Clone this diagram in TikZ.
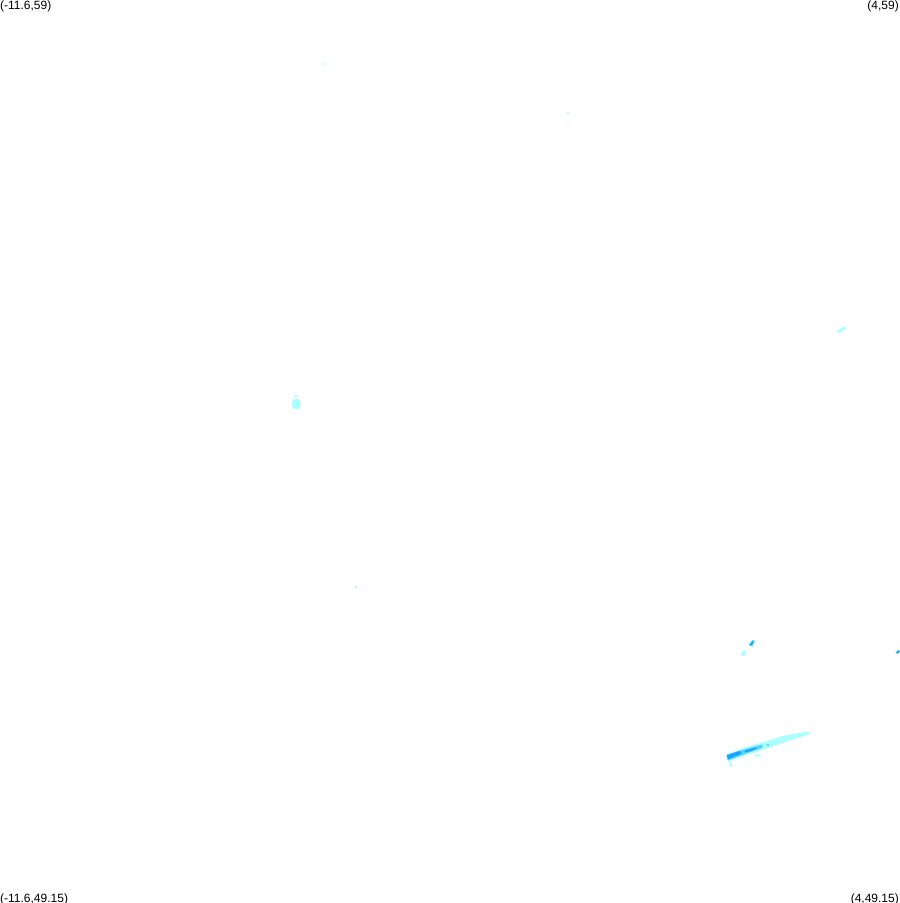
\documentclass[tikz,border=0pt]{standalone}
\usepackage{fontspec}
\setmainfont{Liberation Sans}
\definecolor{lightcyan}{HTML}{ABFFFF}
\definecolor{midcyan}{HTML}{55D4FF}
\definecolor{deepcyan}{HTML}{1E9EFF}
\tikzset{corner/.style={font=\fontsize{12}{14}\selectfont,inner sep=0pt},
  pale/.style={fill=lightcyan,draw=lightcyan,line width=1pt,line join=round},
  mid/.style={fill=midcyan,draw=midcyan,line width=.8pt,line join=round},
  deep/.style={fill=deepcyan,draw=deepcyan,line width=.8pt,line join=round}}
\begin{document}
\begin{tikzpicture}[x=1pt,y=-1pt]
   \useasboundingbox (0,0) rectangle (900,903);
   \node (topleft) at (0,9.5) [corner,anchor=base west] {(-11.6,59)};
   \node (topright) at (899,9.5) [corner,anchor=base east] {(4,59)};
   \node (bottomleft) at (0,902.5) [corner,anchor=base west] {(-11.6,49.15)};
   \node (bottomright) at (899,902.5) [corner,anchor=base east] {(4,49.15)};
   % long streak
   \fill[pale] (727,755) -- (745,748) -- (762,743) -- (785,736) -- (808,732) -- (810,733.5) -- (790,740) -- (764,749) -- (745,755) -- (729,761) -- cycle;
   \fill[mid] (727,755) -- (745,749.5) -- (762,745) -- (762,747.5) -- (745,753.5) -- (728,760) -- cycle;
   \fill[deep] (727.5,755.5) -- (740,751.5) -- (741,753.5) -- (728.5,758.5) -- cycle;
   \fill[deep] (745,751) -- (756,748) -- (756,748.5) -- (746,752) -- cycle;
   \fill[mid] (768,745) circle (.8);
   \fill[pale] (755.5,755.5) -- (760,754.5) -- (760.5,755.5) -- (756,756.5) -- cycle;
   \fill[pale] (729.5,762.5) -- (730.5,762.5) -- (731.5,766.5) -- (730.5,766.5) -- cycle;
   % blobs near the streak
   \fill[mid] (749,645) -- (752.5,640.5) -- (754.5,641) -- (752,646) -- cycle;
   \fill[deep] (750.5,644.5) -- (752.5,642) -- (753,642.5) -- (751.5,644.5) -- cycle;
   \fill[pale] (741.5,655) -- (743,651.5) -- (746,651.5) -- (744,656) -- cycle;
   \fill[mid] (896,652.5) -- (899,650.5) -- (899.5,651.5) -- (897,653.5) -- cycle;
   \fill[deep] (897,652) -- (898.5,651) -- (899,652) -- (897.5,653) -- cycle;
   % upper specks
   \fill[pale] (296.5,404) ellipse (4 and 5);
   \fill[pale] (296,396) ellipse (.8 and 1.2);
   \fill[pale] (837.5,331) -- (845,327) -- (846,328.5) -- (838.5,332.5) -- cycle;
   \fill[pale] (325,64) circle (.6);
   \fill[pale] (568,113) ellipse (.6 and 1.2);
   \fill[pale] (356,587) circle (1);
\end{tikzpicture}
\end{document}
